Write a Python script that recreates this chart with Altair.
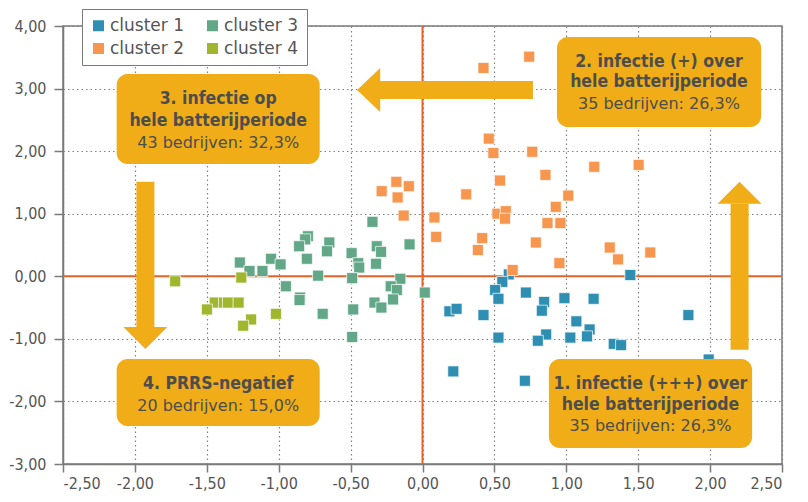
import altair as alt
import pandas as pd

# ---------------- data ----------------
c1_x = [0.60, 0.555, 0.505, 0.528, 0.719, 0.187, 0.237, 0.424, 0.846, 0.83, 0.987, 1.19, 1.445,
        1.07, 1.162, 1.144, 1.028, 0.86, 0.802, 0.528, 1.33, 1.381, 1.849, 0.214, 0.712, 1.99]
c1_y = [0.03, -0.09, -0.22, -0.36, -0.26, -0.56, -0.52, -0.62, -0.41, -0.55, -0.35, -0.36, 0.02,
        -0.72, -0.85, -0.96, -0.98, -0.93, -1.03, -0.98, -1.08, -1.10, -0.62, -1.52, -1.67, -1.33]

c2_x = [0.742, 0.424, 0.461, 0.493, 0.763, 1.194, 1.503, 0.539, 0.855, 1.014, 0.927, 0.304,
        -0.182, -0.095, -0.284, -0.173, -0.131, 0.083, 0.095, 0.521, 0.579, 0.574, 0.869, 0.959,
        0.415, 0.385, 0.788, 1.302, 1.36, 1.584, 0.952, 0.627]
c2_y = [3.51, 3.33, 2.20, 1.97, 1.99, 1.75, 1.78, 1.53, 1.62, 1.29, 1.11, 1.31,
        1.51, 1.44, 1.36, 1.26, 0.97, 0.94, 0.63, 1.00, 1.04, 0.92, 0.85, 0.85,
        0.61, 0.42, 0.54, 0.46, 0.27, 0.38, 0.21, 0.10]

c3_x = [-0.348, -0.09, -0.318, -0.288, -0.323, -0.493, -0.447, -0.44, -0.489, -0.154, -0.221,
        -0.178, -0.205, 0.016, -0.334, -0.286, -0.482, -0.489, -0.797, -0.816, -0.858, -0.648,
        -0.664, -0.804, -1.053, -0.987, -1.27, -1.203, -1.113, -0.726, -0.95, -0.851, -0.855,
        -0.694]
c3_y = [0.87, 0.51, 0.48, 0.39, 0.20, 0.37, 0.21, 0.14, -0.03, -0.04, -0.16,
        -0.22, -0.37, -0.26, -0.42, -0.50, -0.53, -0.97, 0.64, 0.59, 0.48, 0.54,
        0.40, 0.28, 0.28, 0.19, 0.22, 0.085, 0.085, 0.01, -0.16, -0.34, -0.38,
        -0.60]

c4_x = [-1.72, -1.26, -1.445, -1.499, -1.38, -1.353, -1.279, -1.192, -1.247, -1.019]
c4_y = [-0.08, -0.02, -0.42, -0.53, -0.42, -0.42, -0.42, -0.69, -0.79, -0.60]

cluster_names = ["cluster 1", "cluster 2", "cluster 3", "cluster 4"]
cluster_colors = ["#2F8FB3", "#F7964F", "#62A787", "#9FB62D"]

x_ticks = [-2.5, -2.0, -1.5, -1.0, -0.5, 0.0, 0.5, 1.0, 1.5, 2.0, 2.5]
y_ticks = [-3, -2, -1, 0, 1, 2, 3, 4]

# annotation boxes (data coordinates)
box_x1 = [-2.127, 0.935, -2.127, 0.879]
box_x2 = [-0.715, 2.355, -0.715, 2.292]
box_y1 = [3.233, 3.825, -1.322, -1.322]
box_y2 = [1.795, 2.386, -2.393, -2.744]

bold_text = ["3. infectie op", "hele batterijperiode",
             "2. infectie (+) over", "hele batterijperiode",
             "4. PRRS-negatief",
             "1. infectie (+++) over", "hele batterijperiode"]
bold_x = [-1.421, -1.421, 1.644, 1.644, -1.421, 1.585, 1.585]
bold_y = [2.834, 2.482, 3.42, 3.10, -1.721, -1.721, -2.057]

norm_text = ["43 bedrijven: 32,3%", "35 bedrijven: 26,3%", "20 bedrijven: 15,0%", "35 bedrijven: 26,3%"]
norm_x = [-1.421, 1.644, -1.421, 1.585]
norm_y = [2.131, 2.754, -2.073, -2.393]

# arrows: shaft start/end and head tip (data coordinates)
shaft_x = [-0.297, -1.927, 2.205]
shaft_x2 = [0.768, -1.927, 2.205]
shaft_y = [2.977, 1.512, -1.173]
shaft_y2 = [2.977, -0.815, 1.156]
head_x = [-0.455, -1.927, 2.205]
head_y = [2.977, -1.162, 1.512]
head_dir = ["left", "down", "up"]

# ---------------- build tables ----------------
rows = []
for name, xs_, ys_ in zip(cluster_names, [c1_x, c2_x, c3_x, c4_x], [c1_y, c2_y, c3_y, c4_y]):
    for a, b in zip(xs_, ys_):
        rows.append({"x": a, "y": b, "cluster": name})
pts = pd.DataFrame(rows)

boxes = pd.DataFrame({"x": box_x1, "x2": box_x2, "y": box_y1, "y2": box_y2})
btxt = pd.DataFrame({"x": bold_x, "y": bold_y, "t": bold_text})
ntxt = pd.DataFrame({"x": norm_x, "y": norm_y, "t": norm_text})
shafts = pd.DataFrame({"x": shaft_x, "x2": shaft_x2, "y": shaft_y, "y2": shaft_y2})
heads = pd.DataFrame({"x": head_x, "y": head_y, "d": head_dir})

FONT = "DejaVu Sans"
CFONT = "DejaVu Sans Condensed"
GOLD = "#F0AD17"
TXT = "#4D4D4D"
LBL = "#555555"
AX = "#7A7A7A"

xs = alt.Scale(domain=[-2.5, 2.5], nice=False, zero=False)
ys = alt.Scale(domain=[-3, 4], nice=False, zero=False)
lab = "replace(replace(format(datum.value, '.2f'), '.', ','), '\u2212', '-')"

x_axis = alt.Axis(values=x_ticks, labelExpr=lab, title=None, grid=True,
                  gridDash=[1.5, 3], gridColor="#808080", gridWidth=1.2,
                  domainColor=AX, domainWidth=1.5, tickColor=AX, tickWidth=1.5, tickSize=8,
                  labelFont=CFONT, labelFontSize=16, labelColor=LBL, labelPadding=3)
y_axis = alt.Axis(values=y_ticks, labelExpr=lab, title=None, grid=True,
                  gridDash=[1.5, 3], gridColor="#808080", gridWidth=1.2,
                  domainColor=AX, domainWidth=1.5, tickColor=AX, tickWidth=1.5, tickSize=9,
                  labelFont=CFONT, labelFontSize=16, labelColor=LBL, labelPadding=8)

zx = alt.Chart(pd.DataFrame({"x": [0.0]})).mark_rule(color="#E5622A", strokeWidth=2).encode(
    x=alt.X("x:Q", scale=xs, axis=x_axis))
zy = alt.Chart(pd.DataFrame({"y": [0.0]})).mark_rule(color="#E5622A", strokeWidth=2).encode(
    y=alt.Y("y:Q", scale=ys, axis=y_axis))

points = alt.Chart(pts).mark_square(size=121, stroke="white", strokeWidth=1, strokeOpacity=0.7,
                                    opacity=1).encode(
    x=alt.X("x:Q", scale=xs),
    y=alt.Y("y:Q", scale=ys),
    color=alt.Color("cluster:N",
                    scale=alt.Scale(domain=cluster_names, range=cluster_colors),
                    legend=alt.Legend(title=None, orient="none", legendX=19, legendY=-17,
                                      columns=2, symbolType="square", symbolSize=121,
                                      symbolStrokeWidth=0, labelFont=FONT, labelFontSize=17,
                                      labelColor=LBL, labelOffset=3, fillColor="white",
                                      strokeColor=AX, padding=8, columnPadding=19,
                                      rowPadding=5, zindex=2)))

box_layer = alt.Chart(boxes).mark_rect(color=GOLD, cornerRadius=11).encode(
    x=alt.X("x:Q", scale=xs), x2="x2:Q", y=alt.Y("y:Q", scale=ys), y2="y2:Q")

bold_layer = alt.Chart(btxt).mark_text(font=CFONT, fontWeight="bold", fontSize=17.5, color=TXT,
                                       align="center", baseline="middle").encode(
    x=alt.X("x:Q", scale=xs), y=alt.Y("y:Q", scale=ys), text="t:N")
norm_layer = alt.Chart(ntxt).mark_text(font=FONT, fontSize=16, color=TXT,
                                       align="center", baseline="middle").encode(
    x=alt.X("x:Q", scale=xs), y=alt.Y("y:Q", scale=ys), text="t:N")

shaft_layer = alt.Chart(shafts).mark_rule(color=GOLD, strokeWidth=18, strokeCap="butt").encode(
    x=alt.X("x:Q", scale=xs), x2="x2:Q", y=alt.Y("y:Q", scale=ys), y2="y2:Q")

head_shapes = {"left": "M0,0L1.05,-1L1.05,1Z", "down": "M0,0L-1,-1L1,-1Z", "up": "M0,0L-1,1L1,1Z"}
head_layers = []
for d, path in head_shapes.items():
    head_layers.append(
        alt.Chart(heads[heads["d"] == d]).mark_point(shape=path, filled=True, color=GOLD,
                                                     size=1936, opacity=1, strokeWidth=0).encode(
            x=alt.X("x:Q", scale=xs), y=alt.Y("y:Q", scale=ys)))

chart = alt.layer(zx, zy, points, box_layer, bold_layer, norm_layer, shaft_layer, *head_layers).properties(
    width=719, height=438,
    autosize=alt.AutoSizeParams(type="none"),
    padding={"left": 55, "top": 18, "right": 18, "bottom": 30},
    background="white",
).configure_view(stroke=AX, strokeWidth=1.5)

chart.save("out.html", embed_options={"renderer": "svg", "actions": False})
